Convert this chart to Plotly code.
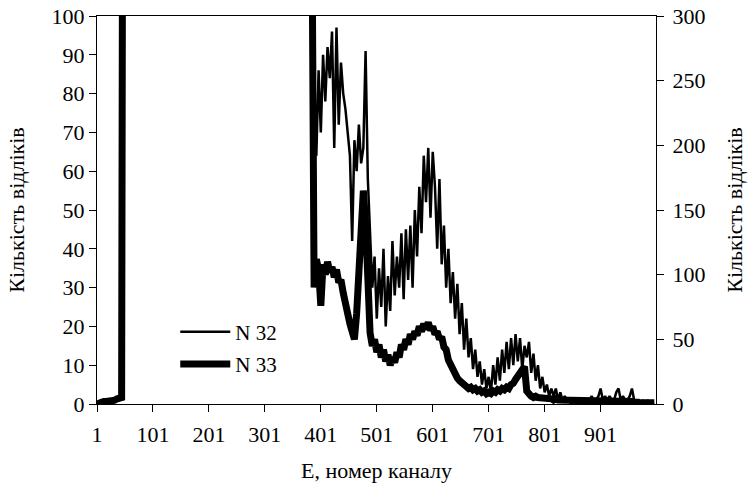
import plotly.graph_objects as go

# channel numbers (every 4th channel)
channels = list(range(1, 1001, 4))

# N 32 — left axis (counts)
n32_low = [0, 0, 0, 1, 0, 1, 1, 0, 1, 1, 1, 2, 300]
n32_off = [
    420, 510, 560, 590, 610, 640, 660, 650, 670, 690, 700, 720,
    740, 760, 790, 820, 850, 880, 910, 950, 990, 1040, 1100, 1180,
    1260, 1350, 1420, 1480, 1500, 1470, 1400, 1310, 1220, 1150, 1090, 1040,
    1000, 970, 940, 920, 900, 890, 880, 870, 860, 850, 850, 840,
    830, 820, 800, 780, 760, 740, 720, 700, 690, 680, 670, 660,
    650, 640, 630, 620, 600, 580, 560, 540, 520, 500, 480, 460,
    440, 420, 400, 380, 360, 340, 320, 300, 280, 260, 240, 210,
]
n32_main = [
    88, 64, 86, 70, 90, 78, 92, 84, 96, 66, 97, 72, 88, 80,
    76, 70, 64, 42, 68, 60, 72, 62, 66, 91, 58, 44,
    30, 38, 22, 35, 25, 40, 20, 33, 24, 42, 28, 38, 30, 44, 27, 45,
    32, 46, 30, 50, 38, 56, 44, 64, 52, 66, 48, 65, 56, 40, 58, 36,
    46, 30, 40, 26, 34, 22, 31, 18, 26, 14, 22, 12, 17, 9, 14, 7,
    11, 5, 9, 4, 7, 3, 10, 5, 12, 6, 14, 8, 16, 9, 17, 10, 18, 11,
    17, 9, 15, 12, 16, 8, 13, 6, 10, 4, 7, 3, 5, 2, 4, 2, 4, 1,
    3, 1, 2, 1, 1, 0, 1, 0, 1, 0, 1, 1, 0, 1, 2, 1, 1, 2, 4, 1,
    2, 1, 2, 1, 1, 3, 4, 1, 2, 1, 1, 2, 4, 1, 1, 1, 0, 1, 0, 1,
    0, 0, 0,
]
n32 = n32_low + n32_off + n32_main

# N 33 — right axis (counts)
n33_low = [0, 1, 1, 2, 2, 2, 3, 3, 3, 4, 4, 5, 900]
n33_off = [
    1200, 1500, 1650, 1750, 1800, 1850, 1900, 1880, 1920, 1950, 1980, 2000,
    2050, 2100, 2150, 2200, 2300, 2400, 2500, 2600, 2700, 2850, 3000, 3200,
    3400, 3600, 3800, 3950, 4000, 3900, 3700, 3450, 3200, 3000, 2850, 2700,
    2600, 2500, 2450, 2400, 2350, 2300, 2250, 2200, 2150, 2100, 2080, 2050,
    2000, 1950, 1900, 1850, 1800, 1750, 1700, 1650, 1600, 1550, 1500, 1450,
    1400, 1350, 1300, 1250, 1200, 1150, 1100, 1050, 1000, 950, 900, 850,
    800, 760, 720, 680, 640, 600, 560, 520, 480, 440, 400, 380,
]
n33_main = [
    90, 112, 104, 76, 108, 100, 110, 102, 106, 98, 104, 94, 96, 86,
    80, 70, 62, 54, 50, 70, 110, 150, 165, 140, 90, 55,
    45, 50, 40, 46, 36, 42, 33, 38, 30, 36, 32, 40, 36, 46, 42, 50,
    46, 54, 50, 56, 53, 60, 56, 62, 58, 63, 57, 60, 54, 56, 50, 52,
    44, 42, 34, 30, 26, 24, 20, 18, 16, 15, 14, 12, 13, 11, 12, 10,
    11, 9, 10, 8, 9, 8, 10, 9, 11, 10, 12, 11, 13, 12, 15, 16, 19, 21,
    24, 27, 29, 10, 7, 6, 5, 6, 5, 5, 4, 5, 4, 4, 4, 3, 4, 3,
    3, 3, 2, 3, 2, 2, 2, 2, 2, 2, 2, 2, 2, 2, 2, 2, 2, 2, 2, 2,
    2, 2, 2, 2, 2, 2, 2, 2, 2, 2, 2, 2, 2, 1, 1, 1, 1, 1, 1, 1,
    1, 1, 1,
]
n33 = n33_low + n33_off + n33_main

assert len(n32) == len(channels), (len(n32), len(channels))
assert len(n33) == len(channels), (len(n33), len(channels))

x_ticks = [1, 101, 201, 301, 401, 501, 601, 701, 801, 901]
left_ticks = [0, 10, 20, 30, 40, 50, 60, 70, 80, 90, 100]
right_ticks = [0, 50, 100, 150, 200, 250, 300]

FONT = "Times New Roman, Liberation Serif, serif"
TFONT = dict(family=FONT, size=22, color="black")

fig = go.Figure()
fig.add_trace(go.Scatter(x=channels, y=n32, mode="lines", name="N 32",
                         line=dict(color="black", width=2.5),
                         legendgroup="a", xaxis="x", yaxis="y"))
fig.add_trace(go.Scatter(x=channels, y=n33, mode="lines", name="N 33",
                         line=dict(color="black", width=7),
                         legendgroup="b", xaxis="x", yaxis="y2"))

axis_common = dict(showgrid=False, zeroline=False, showline=True,
                   linecolor="black", linewidth=1, ticks="outside",
                   ticklen=7, tickcolor="black", tickwidth=1,
                   automargin=False, ticklabeloverflow="allow",
                   tickfont=TFONT)

inner = dict(showgrid=False, zeroline=False, showline=False,
             ticks="inside", ticklen=4, tickcolor="black", tickwidth=1,
             showticklabels=False, automargin=False)

fig.update_layout(
    width=748, height=498,
    margin=dict(l=97, r=92, t=16, b=94),
    paper_bgcolor="white", plot_bgcolor="white",
    font=dict(family=FONT, size=22, color="black"),
    showlegend=True,
    legend=dict(x=0.14, y=0.238, xanchor="left", yanchor="top",
                bgcolor="rgba(0,0,0,0)", tracegroupgap=2,
                font=dict(family=FONT, size=21, color="black"),
                itemwidth=50),
    xaxis=dict(range=[1, 1000], tickvals=x_ticks, mirror=True,
               ticklabelstandoff=4,
               title=dict(text="E, номер каналу", standoff=16,
                          font=TFONT),
               **axis_common),
    yaxis=dict(range=[0, 100], tickvals=left_ticks,
               title=dict(text="Кількість відліків", standoff=20,
                          font=TFONT),
               **axis_common),
    yaxis2=dict(range=[0, 300], tickvals=right_ticks, overlaying="y",
                side="right", ticklabelstandoff=4,
                title=dict(text="Кількість відліків", standoff=22,
                           font=TFONT),
                **axis_common),
    xaxis2=dict(range=[1, 1000], tickvals=x_ticks, overlaying="x",
                side="bottom", anchor="y", **inner),
    yaxis3=dict(range=[0, 100], tickvals=left_ticks, overlaying="y",
                side="left", anchor="x", **inner),
    yaxis4=dict(range=[0, 300], tickvals=right_ticks, overlaying="y",
                side="right", anchor="x", **inner),
)

fig.write_html("out.html", config={"displayModeBar": False},
               post_script="document.body.style.margin='0';")
